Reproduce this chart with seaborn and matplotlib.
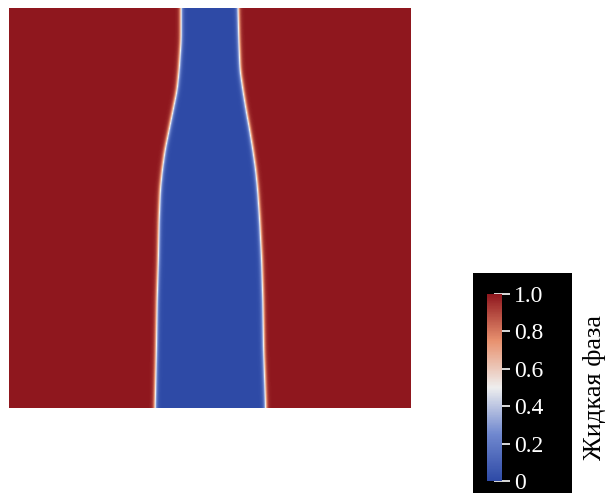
import numpy as np
import pandas as pd
import matplotlib
matplotlib.use("Agg")
import matplotlib.pyplot as plt
from matplotlib.colors import LinearSegmentedColormap
import seaborn as sns

# Interface positions (fractions of the domain, y from top)
heights = [0.0, 0.08, 0.155, 0.205, 0.255, 0.305, 0.355, 0.405, 0.455, 0.53, 0.63, 0.73, 0.855, 1.0]
left_edge = [0.428, 0.428, 0.423, 0.418, 0.408, 0.398, 0.388, 0.381, 0.376, 0.373, 0.371, 0.368, 0.366, 0.363]
right_edge = [0.570, 0.572, 0.575, 0.582, 0.590, 0.599, 0.607, 0.614, 0.619, 0.624, 0.629, 0.632, 0.634, 0.639]
cbar_ticks = [0.0, 0.2, 0.4, 0.6, 0.8, 1.0]
cbar_ticklabels = ["0", "0.2", "0.4", "0.6", "0.8", "1.0"]
cbar_label = "Жидкая фаза"

sns.set_theme(style="white")
SERIF = ['Liberation Serif', 'DejaVu Serif']
plt.rcParams['font.family'] = SERIF

W, H = 607, 493
fig = plt.figure(figsize=(W / 100, H / 100), dpi=100)

# Build liquid-fraction field from the interface positions
n = 400
ys = (np.arange(n) + 0.5) / n
xs = (np.arange(n) + 0.5) / n
L = np.interp(ys, heights, left_edge)
R = np.interp(ys, heights, right_edge)
# light smoothing of the rendered interface
k = np.ones(15) / 15
L = np.convolve(np.pad(L, 7, mode="edge"), k, mode="valid")
R = np.convolve(np.pad(R, 7, mode="edge"), k, mode="valid")
w = 0.006
X = xs[None, :]
field = 1.0 - 0.5 * (np.tanh((X - L[:, None]) / w) - np.tanh((X - R[:, None]) / w))
field = np.clip(field, 0, 1)
df = pd.DataFrame(field)

cmap = LinearSegmentedColormap.from_list(
    "liq",
    [(0.0, "#2e4aa6"), (0.25, "#7088cf"), (0.5, "#eeeeee"),
     (0.75, "#e8916f"), (1.0, "#8f171e")])

ax = fig.add_axes([9 / W, 1 - 408 / H, 402 / W, 400 / H])
bg = fig.add_axes([473 / W, 0, 99 / W, 1 - 273 / H])
bg.set_facecolor("black")
bg.set_xticks([]); bg.set_yticks([])
for s in bg.spines.values():
    s.set_visible(False)
cax = fig.add_axes([487 / W, 1 - 481 / H, 15 / W, 187 / H])

sns.heatmap(df, ax=ax, cmap=cmap, vmin=0, vmax=1, cbar=True, cbar_ax=cax,
            xticklabels=False, yticklabels=False, rasterized=True)
ax.set_xlabel(""); ax.set_ylabel("")

cb = ax.collections[0].colorbar
cb.outline.set_visible(False)
cb.set_ticks(cbar_ticks)
cb.set_ticklabels(cbar_ticklabels)
cax.tick_params(axis="y", direction="inout", length=11, width=1.2,
                colors="white", labelsize=17, pad=3, right=True, left=False)
for t in cax.get_yticklabels():
    t.set_color("white")
    t.set_fontfamily(SERIF)

fig.text(595 / W, 1 - 388 / H, cbar_label, rotation=90, ha="center", va="center",
         fontsize=19, color="black", family=SERIF)

fig.savefig("out.png", dpi=100)
